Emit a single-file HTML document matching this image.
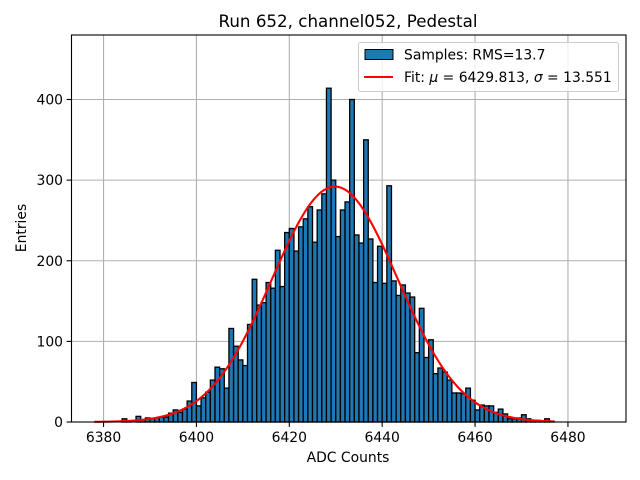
<!DOCTYPE html>
<html><head><meta charset="utf-8"><style>
body{margin:0;background:#fff}
svg{display:block;font-family:"DejaVu Sans","Liberation Sans",sans-serif}
</style></head><body>
<svg id="chart" width="640" height="480" viewBox="0 0 640 480"></svg>
<script>
const binStart = 6384;
const counts = [4,1,0,7,3,5,4,5,6,6,11,15,12,16,26,49,20,30,37,52,68,66,42,116,94,77,70,121,177,145,148,173,166,213,168,235,240,212,242,252,267,223,263,283,414,300,230,263,273,400,232,222,350,227,173,218,172,293,175,157,170,160,155,86,141,80,102,60,67,62,52,36,36,35,42,27,15,21,20,20,12,16,10,4,4,5,9,4,2,2,1,4,1];
const xTicks = [6380,6400,6420,6440,6460,6480];
const yTicks = [0,100,200,300,400];
const fitMu = 6429.813, fitSigma = 13.551, fitPeak = 292;
const fitRange = [6378, 6477];

const NS = "http://www.w3.org/2000/svg";
const svg = document.getElementById('chart');
const L = 71.5, R = 626, T = 35, B = 422;
const xMin = 6373.1, xMax = 6492.5, yMin = 0, yMax = 480;
const X = v => L + (v - xMin) / (xMax - xMin) * (R - L);
const Y = v => B - (v - yMin) / (yMax - yMin) * (B - T);
function mk(tag, attrs, parent) {
  const e = document.createElementNS(NS, tag);
  for (const k in attrs) e.setAttribute(k, attrs[k]);
  (parent || svg).appendChild(e);
  return e;
}
const grid = mk('g', {});


xTicks.forEach(t => mk('line', {x1: X(t), x2: X(t), y1: T, y2: B, stroke: '#b0b0b0', 'stroke-width': 1.1}, grid));
yTicks.forEach(t => mk('line', {x1: L, x2: R, y1: Y(t), y2: Y(t), stroke: '#b0b0b0', 'stroke-width': 1.1}, grid));
const bars = mk('g', {});


counts.forEach((c, i) => {
  const b = binStart + i;
  if (c <= 0) return;
  const r = mk('rect', {x: X(b), y: Y(c), width: X(b + 1) - X(b), height: Y(0) - Y(c), fill: '#1f77b4', stroke: '#000', 'stroke-width': 1.3}, bars);
  
  
});
let d = '';
for (let v = fitRange[0]; v <= fitRange[1]; v += 0.25) {
  const y = fitPeak * Math.exp(-0.5 * Math.pow((v - fitMu) / fitSigma, 2));
  d += (d ? 'L' : 'M') + X(v).toFixed(2) + ',' + Y(y).toFixed(2);
}
const fit = mk('path', {d: d, fill: 'none', stroke: '#ff0000', 'stroke-width': 2.1});


const frame = mk('rect', {x: L, y: T, width: R - L, height: B - T, fill: 'none', stroke: '#000', 'stroke-width': 1.1});


xTicks.forEach(t => {
  mk('line', {x1: X(t), x2: X(t), y1: B, y2: B + 4.9, stroke: '#000', 'stroke-width': 1.1});
  const tx = mk('text', {x: X(t), y: B + 20, 'font-size': 13.9, 'text-anchor': 'middle'});
  tx.textContent = t;
  
  
});
yTicks.forEach(t => {
  mk('line', {x1: L - 4.9, x2: L, y1: Y(t), y2: Y(t), stroke: '#000', 'stroke-width': 1.1});
  const tx = mk('text', {x: L - 8.5, y: Y(t) + 5, 'font-size': 13.9, 'text-anchor': 'end'});
  tx.textContent = t;
  
  
});
</script>
<svg width="640" height="480" style="position:absolute;left:0;top:0">
  <text x="348" y="27" font-size="16.7" text-anchor="middle" font-family="DejaVu Sans, sans-serif">Run 652, channel052, Pedestal</text>
  <text x="348" y="462" font-size="13.9" text-anchor="middle" font-family="DejaVu Sans, sans-serif">ADC Counts</text>
  <text x="26" y="228" font-size="13.9" text-anchor="middle" transform="rotate(-90 26 228)" font-family="DejaVu Sans, sans-serif">Entries</text>
  <g font-family="DejaVu Sans, sans-serif" font-size="13.9">
    <rect x="358.5" y="42.5" width="260" height="49" rx="2" fill="#fff" fill-opacity="0.8" stroke="#ccc" stroke-width="1"/>
    <rect x="365" y="49.5" width="28" height="10" fill="#1f77b4" stroke="#000" stroke-width="1"/>
    <text x="404" y="59.5">Samples: RMS=13.7</text>
    <line x1="364" x2="393" y1="77" y2="77" stroke="#ff0000" stroke-width="2.1"/>
    <text x="404" y="82">Fit: <tspan font-style="italic">μ</tspan> = 6429.813, <tspan font-style="italic">σ</tspan> = 13.551</text>
  </g>
</svg>
</body></html>
